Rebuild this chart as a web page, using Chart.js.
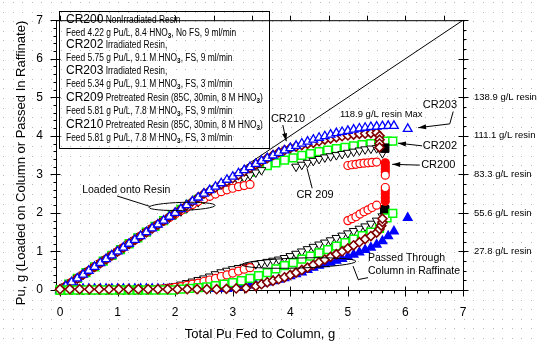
<!DOCTYPE html>
<html>
<head>
<meta charset="utf-8">
<script src="https://cdn.jsdelivr.net/npm/chart.js@4.4.0/dist/chart.umd.min.js"></script>
<style>
	body { margin: 0; background: #fff; }
	canvas { display: block; }
</style>
</head>
<body>
<canvas id="puChart" width="540" height="347"></canvas>
<script>
// tick values / labels
const xTicks = [0, 1, 2, 3, 4, 5, 6, 7];
const yTicks = [0, 1, 2, 3, 4, 5, 6, 7];
const resinTicks = [1, 2, 3, 4, 5];
const resinLabels = ["27.8 g/L resin", "55.6 g/L resin", "83.3 g/L resin", "111.1 g/L resin", "138.9 g/L resin"];

// CR200 - non irradiated resin (red circles)
const cr200X = [0, 0.1, 0.2, 0.3, 0.4, 0.5, 0.6, 0.7, 0.8, 0.9, 1.0, 1.1, 1.2, 1.3, 1.4, 1.5, 1.6, 1.7, 1.8, 1.9, 2.0, 2.1, 2.2, 2.3, 2.4, 2.5, 2.6, 2.7, 2.8, 2.9, 3.0, 3.1, 3.2, 3.3,
	5.0, 5.07, 5.14, 5.21, 5.28, 5.35, 5.42, 5.5, 5.65, 5.65, 5.65, 5.65, 5.65];
const cr200Load = [0, 0.1, 0.2, 0.3, 0.4, 0.5, 0.6, 0.7, 0.8, 0.9, 1.0, 1.1, 1.2, 1.3, 1.4, 1.5, 1.6, 1.7, 1.79, 1.88, 1.97, 2.06, 2.14, 2.22, 2.3, 2.37, 2.43, 2.49, 2.55, 2.6, 2.64, 2.68, 2.71, 2.74,
	3.23, 3.25, 3.26, 3.28, 3.29, 3.3, 3.31, 3.32, 3.3, 3.22, 3.14, 3.06, 2.98];
const cr200Raff = [0, 0, 0, 0, 0, 0, 0, 0, 0, 0, 0, 0, 0, 0, 0, 0.01, 0.01, 0.02, 0.03, 0.05, 0.07, 0.09, 0.12, 0.15, 0.18, 0.22, 0.26, 0.3, 0.35, 0.39, 0.44, 0.49, 0.54, 0.58,
	1.8, 1.85, 1.9, 1.97, 2.03, 2.08, 2.14, 2.2, 2.3, 2.4, 2.5, 2.58, 2.66];

// CR202 - irradiated, 9 ml/min (green squares)
const cr202X = [0, 0.15, 0.3, 0.45, 0.6, 0.75, 0.9, 1.05, 1.2, 1.35, 1.5, 1.65, 1.8, 1.95, 2.1, 2.25, 2.4, 2.55, 2.7, 2.85, 3.0, 3.15, 3.3, 3.45, 3.6, 3.75, 3.9, 4.05, 4.2, 4.35, 4.5, 4.65, 4.8, 4.95, 5.1, 5.25, 5.4, 5.55, 5.68, 5.78];
const cr202Load = [0, 0.15, 0.3, 0.45, 0.6, 0.75, 0.9, 1.05, 1.2, 1.35, 1.5, 1.65, 1.8, 1.95, 2.09, 2.22, 2.35, 2.48, 2.6, 2.72, 2.83, 2.95, 3.06, 3.15, 3.23, 3.3, 3.37, 3.43, 3.49, 3.54, 3.59, 3.63, 3.67, 3.7, 3.74, 3.77, 3.8, 3.82, 3.86, 3.86];
const cr202Raff = [0, 0, 0, 0, 0, 0, 0, 0, 0, 0, 0, 0, 0, 0, 0.02, 0.04, 0.06, 0.08, 0.11, 0.15, 0.19, 0.24, 0.3, 0.37, 0.45, 0.55, 0.63, 0.71, 0.8, 0.88, 0.96, 1.05, 1.14, 1.23, 1.32, 1.41, 1.5, 1.6, 1.87, 1.99];

// CR203 - irradiated, 3 ml/min (blue triangles)
const cr203X = [0, 0.1, 0.2, 0.3, 0.4, 0.5, 0.6, 0.7, 0.8, 0.9, 1.0, 1.1, 1.2, 1.3, 1.4, 1.5, 1.6, 1.7, 1.8, 1.9, 2.0, 2.1, 2.2, 2.3, 2.4, 2.5, 2.6, 2.7, 2.8, 2.9,
	3.0, 3.1, 3.2, 3.3, 3.4, 3.5, 3.6, 3.7, 3.8, 3.9, 4.0, 4.1, 4.2, 4.3, 4.4, 4.5, 4.6, 4.7, 4.8, 4.9, 5.0, 5.1, 5.2, 5.3, 5.4, 5.5, 5.6, 5.7, 5.8, 6.04];
const cr203Load = [0, 0.1, 0.2, 0.3, 0.4, 0.5, 0.6, 0.7, 0.8, 0.9, 1.0, 1.1, 1.2, 1.3, 1.4, 1.5, 1.6, 1.7, 1.8, 1.9, 2.0, 2.1, 2.2, 2.3, 2.4, 2.5, 2.59, 2.68, 2.77, 2.86,
	2.94, 3.03, 3.11, 3.19, 3.27, 3.35, 3.42, 3.49, 3.56, 3.62, 3.68, 3.74, 3.8, 3.85, 3.9, 3.95, 3.99, 4.03, 4.07, 4.1, 4.13, 4.16, 4.19, 4.21, 4.23, 4.24, 4.25, 4.26, 4.26, 4.18];
const cr203Raff = [0, 0.01, 0.02, 0.03, 0.03, 0.03, 0.03, 0.03, 0.03, 0.03, 0.03, 0.03, 0.03, 0.03, 0.03, 0.03, 0.03, 0.03, 0.03, 0.03, 0.03, 0.03, 0.03, 0.03, 0.03, 0.03, 0.03, 0.03, 0.03, 0.03,
	0.05, 0.07, 0.1, 0.12, 0.14, 0.17, 0.2, 0.23, 0.27, 0.31, 0.36, 0.41, 0.46, 0.52, 0.58, 0.63, 0.67, 0.71, 0.76, 0.81, 0.86, 0.92, 0.98, 1.04, 1.1, 1.18, 1.27, 1.4, 1.52, 1.87];

// CR209 - pretreated, 9 ml/min (black inverted triangles, last point square)
const cr209LoadX = [0, 0.1, 0.2, 0.3, 0.4, 0.5, 0.6, 0.7, 0.8, 0.9, 1.0, 1.1, 1.2, 1.3, 1.4, 1.5, 1.6, 1.7, 1.8, 1.9, 2.0, 2.1, 2.2, 2.3, 2.4, 2.5, 2.6, 2.7, 2.8, 2.9, 3.0, 3.1, 3.2, 3.3, 3.4, 3.5,
	4.1, 4.2, 4.3, 4.4, 4.5, 4.6, 4.7, 4.8, 4.9, 5.0, 5.1, 5.2, 5.3, 5.4, 5.5, 5.6, 5.64];
const cr209Load = [0, 0.1, 0.2, 0.3, 0.4, 0.5, 0.6, 0.7, 0.8, 0.9, 1.0, 1.1, 1.2, 1.3, 1.4, 1.5, 1.6, 1.7, 1.79, 1.88, 1.96, 2.04, 2.12, 2.2, 2.28, 2.36, 2.44, 2.52, 2.6, 2.68, 2.76, 2.84, 2.91, 2.98, 3.05, 3.11,
	3.2, 3.25, 3.3, 3.35, 3.4, 3.44, 3.47, 3.5, 3.53, 3.56, 3.59, 3.62, 3.65, 3.67, 3.68, 3.55, 3.68];
const cr209RaffX = [0, 0.1, 0.2, 0.3, 0.4, 0.5, 0.6, 0.7, 0.8, 0.9, 1.0, 1.1, 1.2, 1.3, 1.4, 1.5, 1.6, 1.7, 1.8, 1.9, 2.0, 2.1, 2.2, 2.3, 2.4, 2.5, 2.6, 2.7, 2.8, 2.9,
	3.0, 3.1, 3.2, 3.3, 3.4, 3.5, 3.6, 3.7, 3.8, 3.9, 4.0, 4.1, 4.2, 4.3, 4.4, 4.5, 4.6, 4.7, 4.8, 4.9, 5.0, 5.1, 5.2, 5.3, 5.4, 5.5, 5.6, 5.64];
const cr209Raff = [0, 0, 0, 0, 0, 0, 0, 0, 0, 0, 0, 0, 0, 0, 0, 0.01, 0.02, 0.04, 0.06, 0.08, 0.1, 0.14, 0.18, 0.22, 0.26, 0.3, 0.35, 0.41, 0.46, 0.5,
	0.54, 0.57, 0.6, 0.63, 0.67, 0.7, 0.73, 0.76, 0.79, 0.83, 0.88, 0.94, 1.0, 1.06, 1.12, 1.18, 1.23, 1.29, 1.35, 1.41, 1.47, 1.53, 1.59, 1.65, 1.72, 1.8, 1.91, 2.08];

// CR210 - pretreated, 3 ml/min (dark red diamonds)
const cr210LoadX = [0, 0.1, 0.2, 0.3, 0.4, 0.5, 0.6, 0.7, 0.8, 0.9, 1.0, 1.1, 1.2, 1.3, 1.4, 1.5, 1.6, 1.7, 1.8, 1.9, 2.0, 2.1, 2.2, 2.3, 2.4, 2.5, 2.6, 2.7, 2.8, 2.9,
	3.0, 3.1, 3.2, 3.3, 3.4, 3.5, 3.6, 3.7, 3.8, 3.9, 4.0, 4.1, 4.2, 4.3, 4.4, 4.5, 4.6, 4.7, 4.8, 4.9, 5.0, 5.1, 5.2, 5.3, 5.4, 5.5, 5.55, 5.55, 5.55, 5.55];
const cr210Load = [0, 0.1, 0.2, 0.3, 0.4, 0.5, 0.6, 0.7, 0.8, 0.9, 1.0, 1.1, 1.2, 1.3, 1.4, 1.5, 1.6, 1.7, 1.8, 1.9, 2.0, 2.1, 2.2, 2.3, 2.4, 2.5, 2.58, 2.66, 2.74, 2.82,
	2.9, 2.99, 3.08, 3.17, 3.26, 3.34, 3.42, 3.5, 3.57, 3.63, 3.68, 3.72, 3.76, 3.79, 3.82, 3.86, 3.9, 3.93, 3.96, 3.99, 4.01, 4.03, 4.05, 4.06, 4.07, 4.08, 4.0, 3.9, 3.8, 3.7];
const cr210RaffX = [0, 0.17, 0.34, 0.51, 0.68, 0.85, 1.02, 1.19, 1.36, 1.53, 1.7, 1.87, 2.04, 2.21, 2.38, 2.55, 2.72, 2.89, 3.06, 3.23,
	3.4, 3.5, 3.6, 3.7, 3.8, 3.9, 4.0, 4.1, 4.2, 4.3, 4.4, 4.5, 4.6, 4.7, 4.8, 4.9, 5.0, 5.1, 5.2, 5.3, 5.4, 5.5, 5.55, 5.58, 5.6, 5.6];
const cr210Raff = [0.02, 0.02, 0.02, 0.02, 0.02, 0.02, 0.02, 0.02, 0.02, 0.02, 0.02, 0.02, 0.02, 0.02, 0.02, 0.02, 0.02, 0.03, 0.04, 0.05,
	0.1, 0.15, 0.2, 0.24, 0.28, 0.33, 0.39, 0.45, 0.52, 0.58, 0.65, 0.72, 0.79, 0.86, 0.93, 1.0, 1.08, 1.16, 1.24, 1.32, 1.4, 1.49, 1.58, 1.67, 1.76, 1.85];

// y = x reference line
const lineX = [0, 7];
const lineY = [0, 7];

const legendLines = [
	[["CR200", "big"], [" NonIrradiated Resin", "small"]],
	[["Feed 4.22 g Pu/L, 8.4 HNO", "small"], ["3", "sub"], [", No FS, 9 ml/min", "small"]],
	[["CR202", "big"], [" Irradiated Resin,", "small"]],
	[["Feed 5.75 g Pu/L, 9.1 M HNO", "small"], ["3", "sub"], [", FS, 9 ml/min", "small"]],
	[["CR203", "big"], [" Irradiated Resin,", "small"]],
	[["Feed 5.34 g Pu/L, 9.1 M HNO", "small"], ["3", "sub"], [", FS, 3 ml/min", "small"]],
	[["CR209", "big"], [" Pretreated Resin (85C, 30min, 8 M HNO", "small"], ["3", "sub"], [")", "small"]],
	[["Feed 5.81 g Pu/L, 7.8 M HNO", "small"], ["3", "sub"], [", FS, 9 ml/min", "small"]],
	[["CR210", "big"], [" Pretreated Resin (85C, 30min, 8 M HNO", "small"], ["3", "sub"], [")", "small"]],
	[["Feed 5.81 g Pu/L, 7.8 M HNO", "small"], ["3", "sub"], [", FS, 3 ml/min", "small"]],
];

const FONT = "'Liberation Sans', Arial, sans-serif";
Chart.defaults.font.family = FONT;
Chart.defaults.color = "#000";

function pts(xs, ys) {
	return xs.map((x, i) => ({ x: x, y: ys[i] }));
}

function isLast(c) {
	return c.dataIndex === c.dataset.data.length - 1;
}

const redStyle = {
	pointStyle: "circle", pointRadius: 4, pointBorderWidth: 1.2, pointBorderColor: "#ff0000",
	pointBackgroundColor: c => (c.raw && c.raw.x >= 5.6 && !isLast(c)) ? "#ff0000" : "#ffffff",
};
const greenStyle = {
	pointStyle: "rect", pointRadius: 5.5, pointBorderWidth: 1.5, pointBorderColor: "#00ff00", pointBackgroundColor: "#ffffff",
};
const blueUpStyle = {
	pointStyle: "triangle", pointRadius: 5, pointBorderWidth: 1.3, pointBorderColor: "#0000ff", pointBackgroundColor: "#ffffff",
};
const blueLowStyle = {
	pointStyle: "triangle", pointRadius: 5, pointBorderWidth: 1.3, pointBorderColor: "#0000ff", pointBackgroundColor: "#0000ff",
};
const blackStyle = {
	pointStyle: c => isLast(c) ? "rect" : "triangle",
	pointRotation: c => isLast(c) ? 0 : 180,
	pointRadius: c => isLast(c) ? 6 : 5,
	pointBorderWidth: 1, pointBorderColor: "#000000",
	pointBackgroundColor: c => isLast(c) ? "#000000" : "#ffffff",
};
const maroonStyle = {
	pointStyle: "rectRot", pointRadius: 4.5, pointBorderWidth: 1.6, pointBorderColor: "#800000", pointBackgroundColor: "#ffffff",
};

function series(xs, ys, style, order) {
	return Object.assign({ data: pts(xs, ys), showLine: false, clip: false, order: order }, style);
}

// annotation helpers
function arrow(ctx, x1, y1, x2, y2) {
	const ang = Math.atan2(y2 - y1, x2 - x1);
	ctx.beginPath();
	ctx.moveTo(x2, y2);
	ctx.lineTo(x2 - 8 * Math.cos(ang) + 2.5 * Math.sin(ang), y2 - 8 * Math.sin(ang) - 2.5 * Math.cos(ang));
	ctx.lineTo(x2 - 8 * Math.cos(ang) - 2.5 * Math.sin(ang), y2 - 8 * Math.sin(ang) + 2.5 * Math.cos(ang));
	ctx.closePath();
	ctx.fill();
}

const paper = {
	id: "paper",
	beforeDraw(chart) {
		const ctx = chart.ctx;
		ctx.save();
		ctx.fillStyle = "#b8b8b8";
		for (let gx = 3; gx < chart.width; gx += 9.6) {
			for (let gy = 2; gy < chart.height; gy += 9.6) {
				ctx.fillRect(Math.round(gx), Math.round(gy), 1, 1);
			}
		}
		ctx.restore();
	},
	beforeDatasetsDraw(chart) {
		const ctx = chart.ctx;
		const a = chart.chartArea;
		const sx = chart.scales.x, sy = chart.scales.y;
		const L = a.left + 0.5, R = a.right + 0.5, T = a.top + 0.5, B = a.bottom + 0.5;
		ctx.save();
		ctx.strokeStyle = "#000";
		ctx.lineWidth = 1;
		ctx.beginPath();
		ctx.moveTo(L, T); ctx.lineTo(R, T); ctx.lineTo(R, B); ctx.lineTo(L, B); ctx.closePath();
		// left axis
		for (let v = 0; v <= 7.001; v += 0.2) {
			const p = Math.round(sy.getPixelForValue(v)) + 0.5;
			const major = Math.abs(v - Math.round(v)) < 0.01;
			ctx.moveTo(L - (major ? 6 : 3), p);
			ctx.lineTo(L + (major ? 4 : 0), p);
		}
		// right axis
		for (let v = 0; v <= 7.001; v += 0.25) {
			const p = Math.round(sy.getPixelForValue(v)) + 0.5;
			const major = Math.abs(v - Math.round(v)) < 0.01;
			ctx.moveTo(R - (major ? 5 : 0), p);
			ctx.lineTo(R + (major ? 5 : 3), p);
		}
		// bottom axis
		for (let v = 0; v <= 7.001; v += 0.2) {
			const p = Math.round(sx.getPixelForValue(v)) + 0.5;
			const major = Math.abs(v - Math.round(v)) < 0.01;
			ctx.moveTo(p, B - (major ? 4 : 0));
			ctx.lineTo(p, B + (major ? 6 : 3));
		}
		// top axis
		for (let k = 0; k <= 10; k++) {
			const p = Math.round(sx.getPixelForValue(k * 2 / 3)) + 0.5;
			ctx.moveTo(p, T - 5);
			ctx.lineTo(p, T);
		}
		ctx.stroke();
		ctx.restore();
	},
	afterDatasetsDraw(chart) {
		const ctx = chart.ctx;
		const sx = chart.scales.x, sy = chart.scales.y;
		const px = v => sx.getPixelForValue(v);
		const py = v => sy.getPixelForValue(v);
		ctx.save();

		// legend box
		ctx.strokeStyle = "#000";
		ctx.lineWidth = 1;
		ctx.strokeRect(59.5, 11.5, 210, 137);
		ctx.save();
		ctx.beginPath();
		ctx.rect(60, 12, 209, 136);
		ctx.clip();
		ctx.fillStyle = "#000";
		ctx.textBaseline = "middle";
		const rows = [20, 33, 45, 58, 71, 84, 98, 111, 125, 138];
		legendLines.forEach((line, i) => {
			let x = 66;
			line.forEach(run => {
				const kind = run[1];
				const size = kind === "big" ? 12 : kind === "sub" ? 7.5 : 10;
				const squeeze = kind === "big" ? 1 : 0.84;
				const dy = kind === "sub" ? 3 : 0;
				ctx.font = (kind === "sub" ? "bold " : "") + size + "px " + FONT;
				ctx.save();
				ctx.translate(x, rows[i] + dy);
				ctx.scale(squeeze, 1);
				ctx.fillText(run[0], 0, 0);
				ctx.restore();
				x += ctx.measureText(run[0]).width * squeeze;
			});
		});
		ctx.restore();

		// annotations
		ctx.fillStyle = "#000";
		ctx.strokeStyle = "#000";
		ctx.textAlign = "center";
		ctx.textBaseline = "middle";
		ctx.font = "11px " + FONT;
		ctx.fillText("CR203", px(6.6), py(4.81));
		ctx.fillText("CR202", px(6.6), py(3.74));
		ctx.fillText("CR200", px(6.57), py(3.24));
		ctx.fillText("CR210", px(3.96), py(4.43));
		ctx.fillText("CR 209", px(4.43), py(2.47));
		ctx.font = "9.5px " + FONT;
		ctx.fillText("118.9 g/L resin Max", px(5.58), py(4.56));
		ctx.font = "10.5px " + FONT;
		ctx.fillText("Loaded onto Resin", px(1.15), py(2.59));
		ctx.textAlign = "left";
		ctx.fillText("Passed Through", px(5.35), py(0.82));
		ctx.fillText("Column in Raffinate", px(5.35), py(0.5));

		ctx.lineWidth = 1;
		ctx.beginPath();
		ctx.moveTo(px(6.83), py(4.63)); ctx.lineTo(px(6.77), py(4.31)); ctx.lineTo(px(6.22), py(4.21));
		ctx.moveTo(px(6.29), py(3.74)); ctx.lineTo(px(5.87), py(3.81));
		ctx.moveTo(px(6.25), py(3.24)); ctx.lineTo(px(5.77), py(3.26));
		ctx.moveTo(px(3.87), py(4.28)); ctx.lineTo(px(3.93), py(3.86));
		ctx.moveTo(px(4.38), py(2.64)); ctx.lineTo(px(4.29), py(3.16));
		ctx.moveTo(px(0.99), py(2.44)); ctx.lineTo(px(1.56), py(2.17));
		ctx.moveTo(px(5.09), py(0.62)); ctx.lineTo(px(5.18), py(0.27)); ctx.lineTo(px(5.35), py(0.32));
		ctx.stroke();
		arrow(ctx, px(6.77), py(4.31), px(6.22), py(4.21));
		arrow(ctx, px(6.29), py(3.74), px(5.87), py(3.81));
		arrow(ctx, px(6.25), py(3.24), px(5.77), py(3.26));
		arrow(ctx, px(3.87), py(4.28), px(3.93), py(3.86));

		ctx.beginPath();
		ctx.ellipse(px(2.12), py(2.17), 33, 4, -0.03, 0, Math.PI * 2);
		ctx.stroke();
		ctx.beginPath();
		ctx.ellipse(px(4.15), py(0.7), 57, 5, -0.03, 0, Math.PI * 2);
		ctx.stroke();

		// axis titles
		ctx.font = "13px " + FONT;
		ctx.textAlign = "center";
		ctx.fillText("Total Pu Fed to Column, g", 260, 334);
		ctx.translate(21, 163);
		ctx.rotate(-Math.PI / 2);
		ctx.fillText("Pu, g (Loaded on Column or Passed In Raffinate)", 0, 0);
		ctx.restore();
	}
};

const puChart = new Chart(document.getElementById("puChart").getContext("2d"), {
	type: "scatter",
	data: {
		datasets: [
			{ data: pts(lineX, lineY), showLine: true, borderColor: "#000", borderWidth: 1, pointRadius: 0, order: 10 },
			series(cr202X, cr202Load, greenStyle, 7),
			series(cr202X, cr202Raff, greenStyle, 2),
			series(cr209LoadX, cr209Load, blackStyle, 6),
			series(cr209RaffX, cr209Raff, blackStyle, 6),
			series(cr200X, cr200Load, redStyle, 5),
			series(cr200X, cr200Raff, redStyle, 3),
			series(cr210LoadX, cr210Load, maroonStyle, 4),
			series(cr210RaffX, cr210Raff, maroonStyle, 1),
			series(cr203X, cr203Load, blueUpStyle, 3),
			series(cr203X, cr203Raff, blueLowStyle, 4),
		],
	},
	options: {
		responsive: false,
		animation: false,
		events: [],
		layout: { padding: { top: 9 } },
		plugins: { legend: { display: false }, tooltip: { enabled: false } },
		scales: {
			x: {
				type: "linear", position: "bottom", min: -0.07, max: 7,
				afterBuildTicks: s => { s.ticks = xTicks.map(v => ({ value: v })); },
				afterFit: s => { s.height = 57; },
				grid: { display: false, drawTicks: false }, border: { display: false },
				ticks: { padding: 15, autoSkip: false, maxRotation: 0, font: { size: 12 } },
			},
			y: {
				type: "linear", position: "left", min: 0, max: 7,
				afterBuildTicks: s => { s.ticks = yTicks.map(v => ({ value: v })); },
				afterFit: s => { s.width = 56; },
				grid: { display: false, drawTicks: false }, border: { display: false },
				ticks: { padding: 13, autoSkip: false, font: { size: 12 } },
			},
			y2: {
				type: "linear", position: "right", min: 0, max: 7,
				afterBuildTicks: s => { s.ticks = resinTicks.map(v => ({ value: v })); },
				afterFit: s => { s.width = 77; },
				grid: { display: false, drawTicks: false }, border: { display: false },
				ticks: {
					padding: 11, autoSkip: false, font: { size: 9.5 },
					callback: v => resinLabels[resinTicks.indexOf(v)],
				},
			},
		},
	},
	plugins: [paper],
});
</script>
</body>
</html>
